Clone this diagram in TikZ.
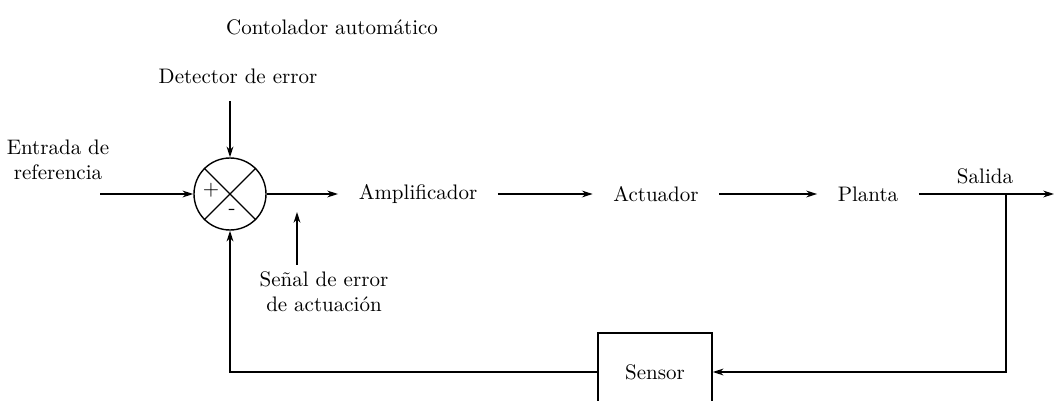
\documentclass[tikz,border=0pt]{standalone}
\usetikzlibrary{arrows.meta,positioning,calc}

\begin{document}
\begin{tikzpicture}[x=0.5pt,y=-0.5pt,line width=0.7pt]

\tikzset{>={Stealth[width=1.2mm,length=1.9mm]}}
\tikzset{texto/.style={font=\fontsize{10.5}{12.5}\selectfont,align=center,inner xsep=10pt}}

\useasboundingbox (0,0) rectangle (1055,401);

\node[texto] at (332,27) [name=ctrl] {Contolador autom\'atico};
\node[texto] at (238,76) [name=det] {Detector de error};
\node[texto] at (58,160) [name=ref] {Entrada de\\referencia};

%===================================================================
\node[draw,circle,minimum size=36pt,inner sep=0pt] at (230,194) [name=sum] {};
\draw (sum.north west)--(sum.south east);
\draw (sum.north east)--(sum.south west);
\node[font=\fontsize{10.5}{12.5}\selectfont,inner sep=0pt] at (211,190) [name=mas] {+};
\node[font=\fontsize{10.5}{12.5}\selectfont,inner sep=0pt] at (232,212) [name=menos] {-};

\coordinate (in) at (100,194);
\draw[->] (in)--(sum.west);
\draw[->] ([yshift=-5pt]det.south -| sum.north)--(sum.north);

%===================================================================
\node[texto] at (418,194) [name=amp] {Amplificador};
\node[texto] at (656,194) [name=act] {Actuador};
\node[texto] at (868,194) [name=plant] {Planta};

\draw[->] (sum.east)--(amp.west);
\draw[->] (amp.east)--(act.west);
\draw[->] (act.east)--(plant.west);

\node[texto] at (324,292) [name=err] {Se\~nal de error\\de actuaci\'on};
\coordinate (errtip) at (297,212);
\draw[->] (err.north -| errtip)--(errtip);

%===================================================================
\node[texto] at (985,176) [name=sal] {Salida};
\coordinate (outend) at (1054,194);
\coordinate (br) at (1006,194);
\draw[->] (plant.east)--(outend);

\node[draw,texto,minimum width=57pt,minimum height=39pt,inner sep=0pt] at (655,372) [name=sensor] {Sensor};
\draw[->] (br) |- (sensor.east);
\draw[->] (sensor.west) -| (sum.south);

\end{tikzpicture}
\end{document}
